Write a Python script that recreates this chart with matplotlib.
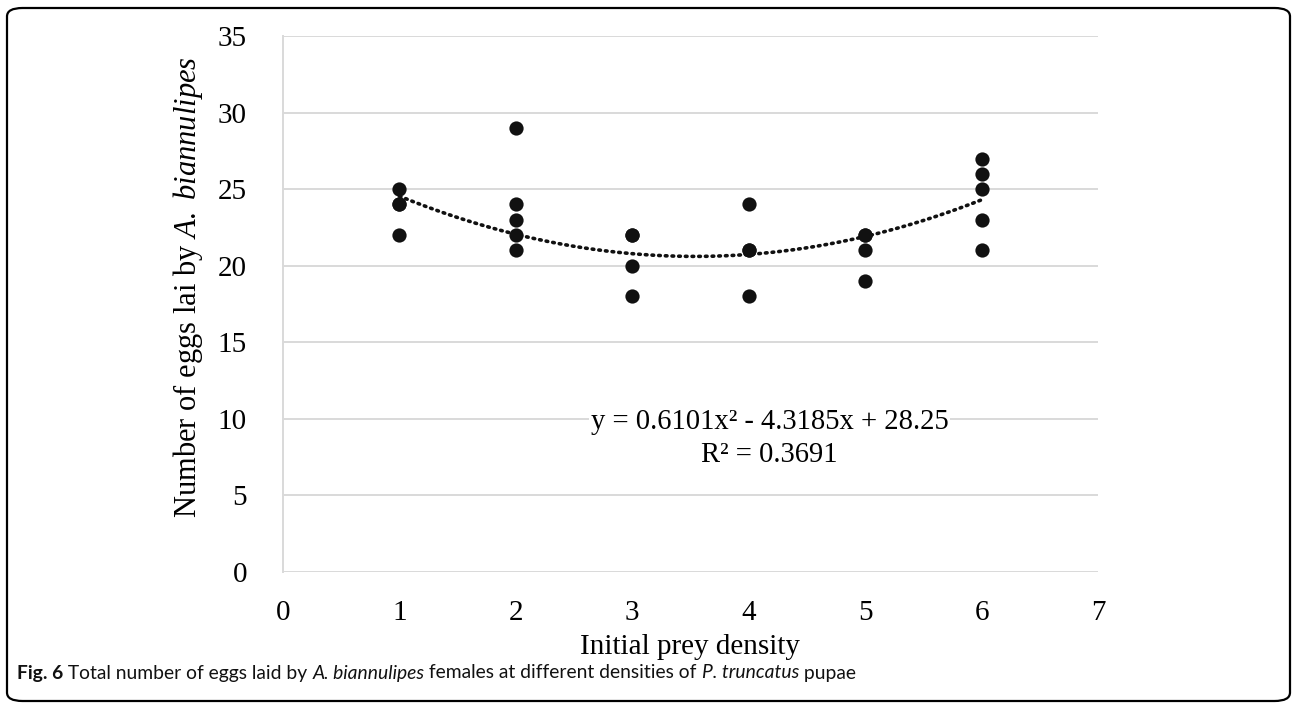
import numpy as np
import matplotlib
matplotlib.use("Agg")
import matplotlib.pyplot as plt
from matplotlib.patches import FancyBboxPatch

# data
density = [1, 1, 1, 1, 2, 2, 2, 2, 2, 3, 3, 3, 3, 4, 4, 4, 4, 5, 5, 5, 5, 6, 6, 6, 6, 6]
eggs = [25, 24, 24, 22, 29, 24, 23, 22, 21, 22, 22, 20, 18, 24, 21, 21, 18, 22, 22, 21, 19, 27, 26, 25, 23, 21]
fit_coef = [0.6101, -4.3185, 28.25]
r_squared = 0.3691
xticks = [0, 1, 2, 3, 4, 5, 6, 7]
yticks = [0, 5, 10, 15, 20, 25, 30, 35]

plt.rcParams['mathtext.fontset'] = 'custom'
plt.rcParams['mathtext.rm'] = 'Liberation Serif'
plt.rcParams['mathtext.it'] = 'Liberation Serif:italic'

W, H = 1292, 704
fig = plt.figure(figsize=(W / 100, H / 100), dpi=100)
ax = fig.add_axes([283 / W, 1 - 572 / H, (1098 - 283) / W, (572 - 36) / H])

ax.scatter(density, eggs, s=105, color="#111111", zorder=3, linewidths=0)

xs = np.linspace(min(density), max(density), 200)
ax.plot(xs, np.polyval(fit_coef, xs), color="#111111", lw=2.6,
        linestyle=(0, (0.45, 1.4)), dash_capstyle="round", zorder=2)

ax.set_xlim(0, 7)
ax.set_ylim(0, 35)
ax.set_xticks(xticks)
ax.set_yticks(yticks)
ax.grid(axis="y", color="#d9d9d9", lw=1.4)
ax.set_axisbelow(True)
for s in ["top", "right", "bottom"]:
    ax.spines[s].set_visible(False)
ax.spines["left"].set_color("#d9d9d9")
ax.spines["left"].set_linewidth(1.4)
ax.tick_params(length=0, labelsize=21, pad=20)
ax.tick_params(axis="y", pad=26)
for lab in ax.get_xticklabels() + ax.get_yticklabels():
    lab.set_fontfamily("Liberation Serif")

ax.set_xlabel("Initial prey density", fontsize=21, fontfamily="Liberation Serif", labelpad=6)
fig.text(188 / W, 1 - 287 / H, r"Number of eggs lai by $\mathit{A.\ biannulipes}$",
         rotation=90, ha="center", va="center", fontsize=22, fontfamily="Liberation Serif")

ax.text(4.18, 9.8, "y = %.4fx² - %.4fx + %.2f" % (fit_coef[0], -fit_coef[1], fit_coef[2]),
        ha="center", va="center", fontsize=20.6, fontfamily="Liberation Serif",
        bbox=dict(facecolor="white", edgecolor="none", pad=1))
ax.text(4.18, 7.64, "R² = %.4f" % r_squared,
        ha="center", va="center", fontsize=20.6, fontfamily="Liberation Serif")

# border
fig.patches.append(FancyBboxPatch((7 / W, 3 / H), (1290 - 7) / W, (696 - 3) / H,
                                  boxstyle="round,pad=0,rounding_size=0.012",
                                  transform=fig.transFigure, fill=False,
                                  edgecolor="black", lw=1.6))

# caption in pieces
pieces = [("Fig. 6", "bold", "normal"),
          (" Total number of eggs laid by ", "normal", "normal"),
          ("A. biannulipes", "normal", "italic"),
          (" females at different densities of ", "normal", "normal"),
          ("P. truncatus", "normal", "italic"),
          (" pupae", "normal", "normal")]
fig.canvas.draw()
renderer = fig.canvas.get_renderer()
x = 17
for txt, weight, style in pieces:
    t = fig.text(x / W, 1 - 673 / H, txt, fontsize=13.9, fontfamily="Lato",
                 fontweight=weight, fontstyle=style, va="center", ha="left", color="#111111")
    bb = t.get_window_extent(renderer)
    x += bb.width

fig.savefig("out.png", dpi=100)
